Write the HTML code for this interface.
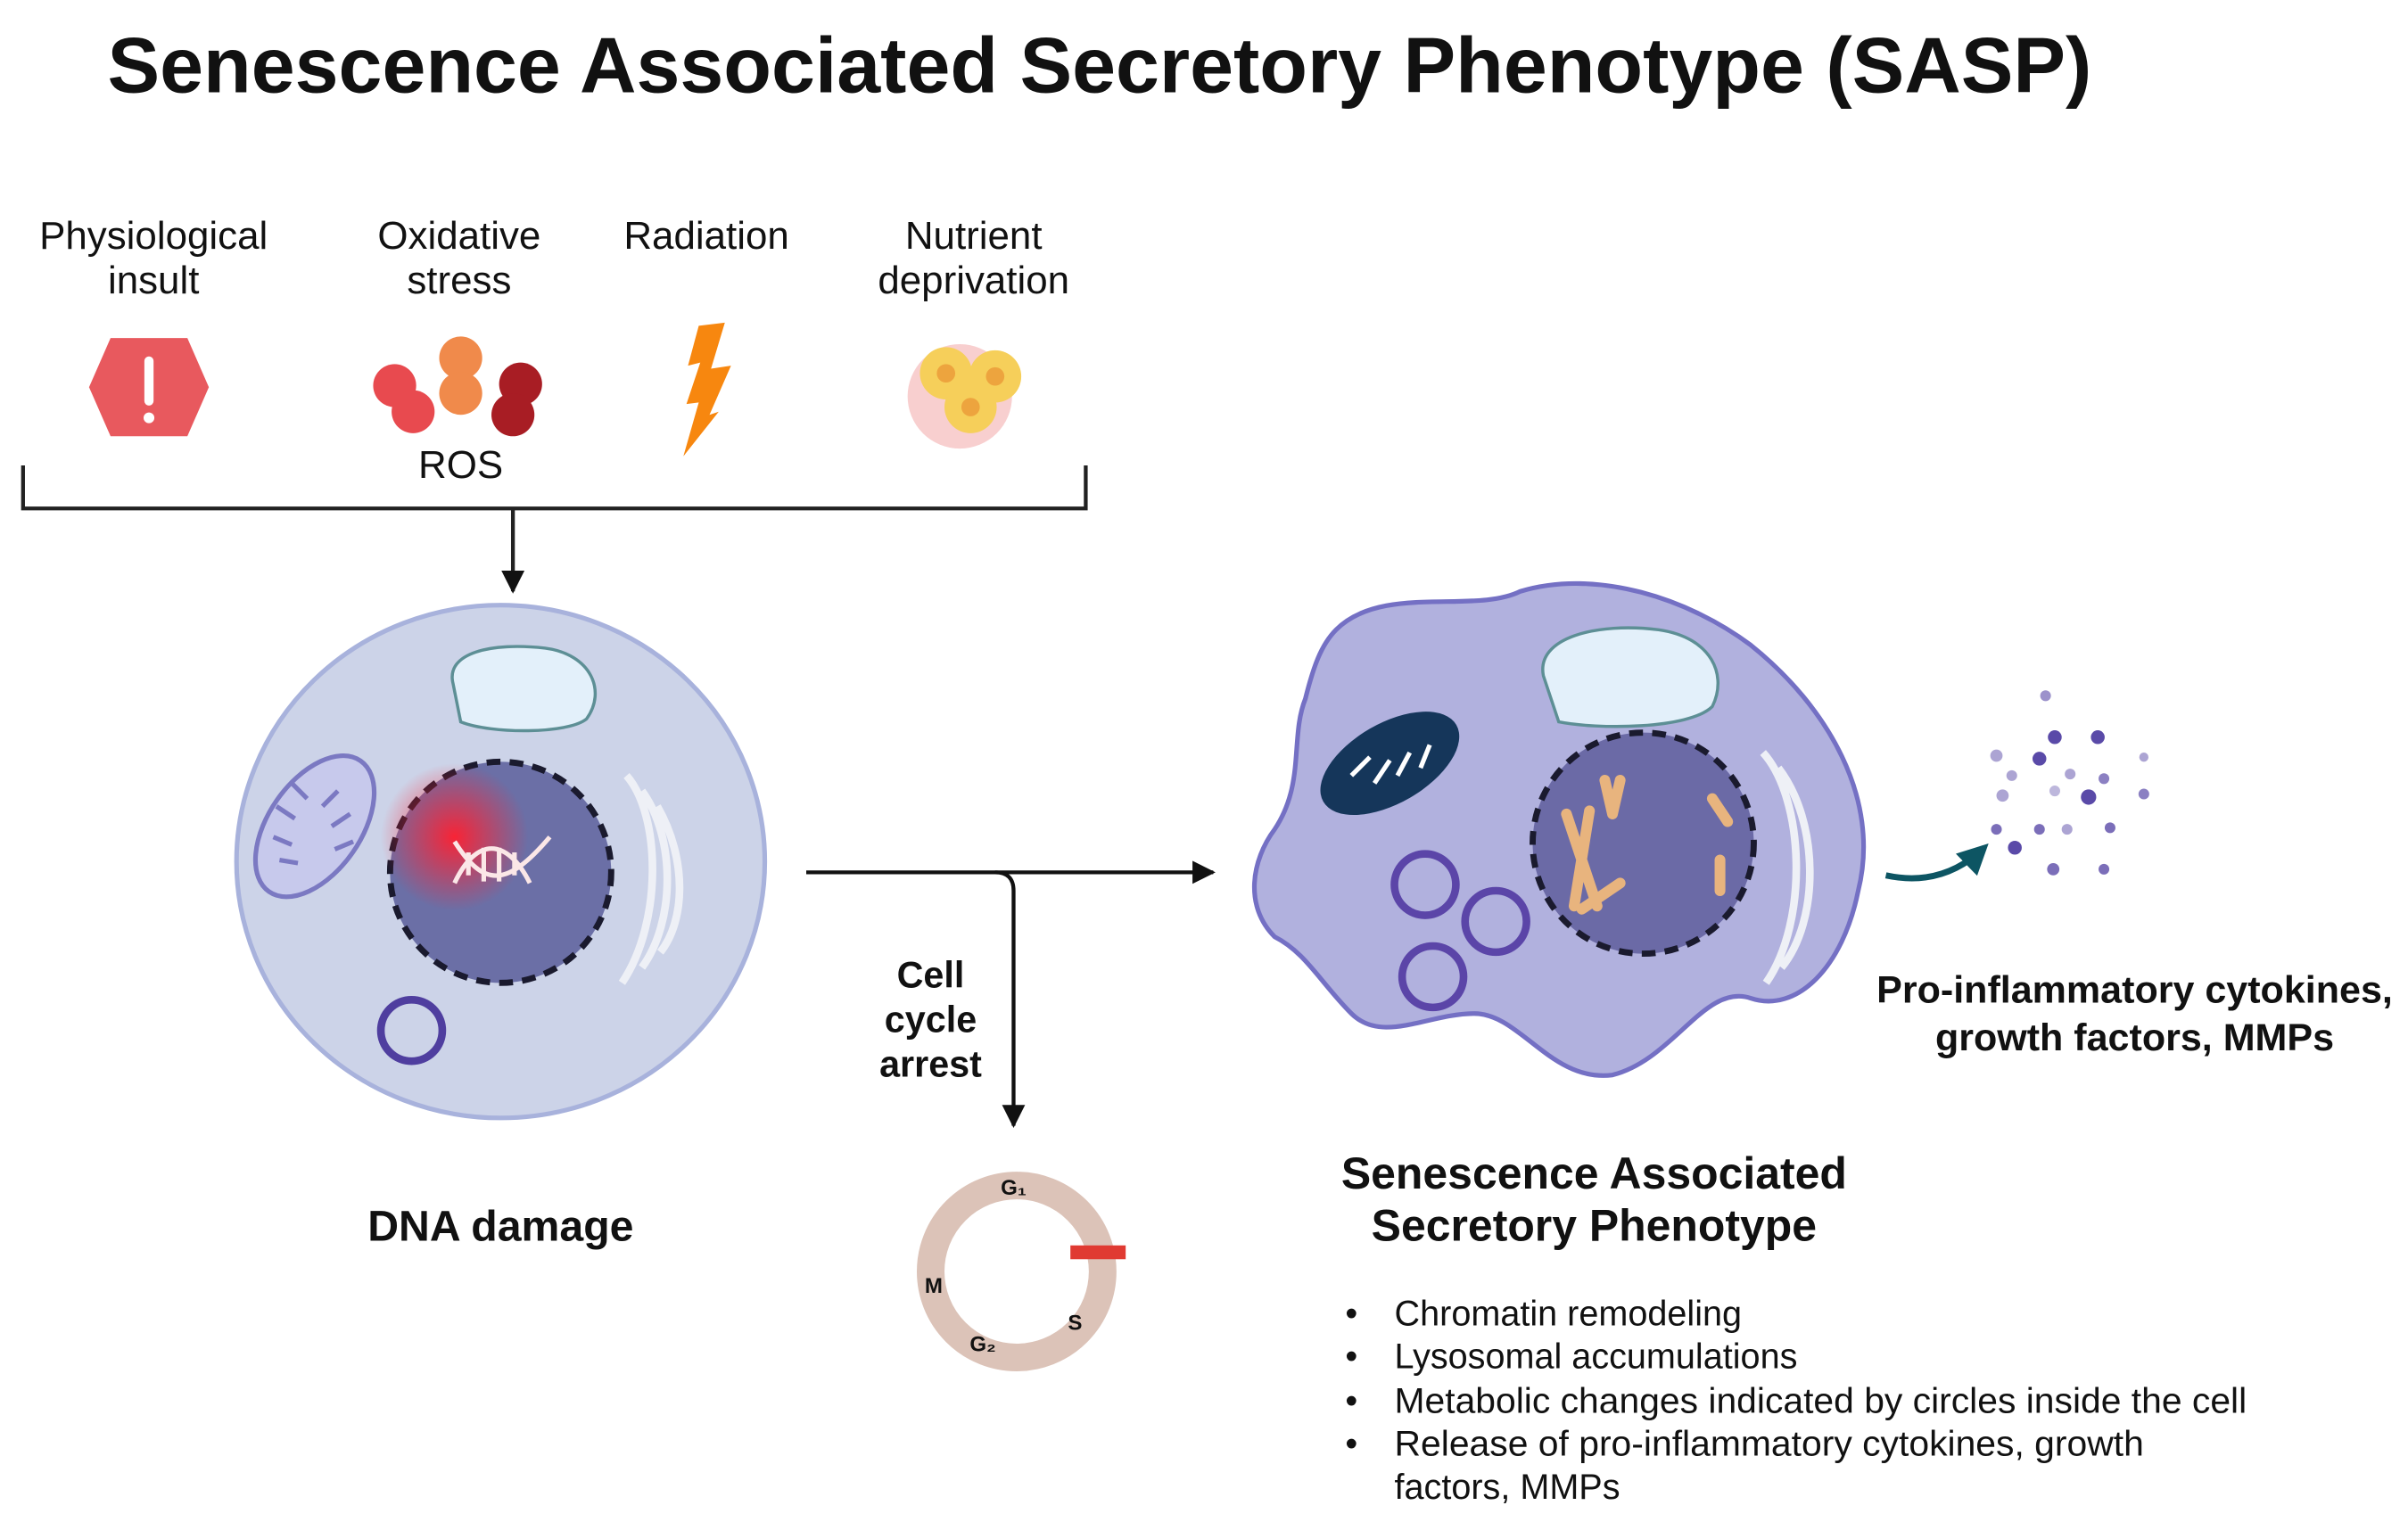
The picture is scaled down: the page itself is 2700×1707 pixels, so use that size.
<!DOCTYPE html>
<html><head><meta charset="utf-8"><style>
html,body{margin:0;padding:0;background:#fff;}
svg{display:block;}
text{font-family:"Liberation Sans",sans-serif;fill:#111;}
.b{font-weight:bold;}
</style></head><body>
<svg width="2700" height="1707" viewBox="0 0 1568 991" xmlns="http://www.w3.org/2000/svg">
<defs>
<radialGradient id="glow"><stop offset="0" stop-color="#ff2030" stop-opacity="0.95"/><stop offset="1" stop-color="#ff2030" stop-opacity="0"/></radialGradient>
<marker id="ah" viewBox="0 0 10 10" refX="9" refY="5" markerWidth="6" markerHeight="6" orient="auto"><path d="M0,0L10,5L0,10z" fill="#111"/></marker>
<marker id="ah2" viewBox="0 0 10 10" refX="8" refY="5" markerWidth="5" markerHeight="5" orient="auto"><path d="M0,0L10,5L0,10z" fill="#0d5563"/></marker>
</defs>
<text x="70" y="60" font-size="51" class="b" textLength="1292" lengthAdjust="spacingAndGlyphs">Senescence Associated Secretory Phenotype (SASP)</text>
<g font-size="25.5" text-anchor="middle">
<text x="100" y="162">Physiological</text><text x="100" y="191">insult</text>
<text x="299" y="162">Oxidative</text><text x="299" y="191">stress</text>
<text x="460" y="162">Radiation</text>
<text x="634" y="162">Nutrient</text><text x="634" y="191">deprivation</text>
<text x="300" y="311">ROS</text>
</g>
<polygon points="72,220 122,220 136,252 122,284 72,284 58,252" fill="#e8595e"/>
<rect x="94" y="232" width="6" height="32" rx="3" fill="#fff"/><circle cx="97" cy="272" r="3.5" fill="#fff"/>
<circle cx="257" cy="251" r="14" fill="#e84a4f"/><circle cx="269" cy="268" r="14" fill="#e84a4f"/>
<circle cx="300" cy="233" r="14" fill="#f08a4b"/><circle cx="300" cy="256" r="14" fill="#f08a4b"/>
<circle cx="339" cy="250" r="14" fill="#a81d24"/><circle cx="334" cy="270" r="14" fill="#a81d24"/>
<polygon points="455,212 472,210 463,240 476,238 462,270 468,268 445,297 455,262 447,263 456,236 448,238" fill="#f7870f"/>
<circle cx="625" cy="258" r="34" fill="#f6c3c3" opacity="0.8"/>
<circle cx="616" cy="243" r="17" fill="#f6cf5a"/><circle cx="648" cy="245" r="17" fill="#f6cf5a"/><circle cx="632" cy="265" r="17" fill="#f6cf5a"/>
<circle cx="616" cy="243" r="6" fill="#eda43e"/><circle cx="648" cy="245" r="6" fill="#eda43e"/><circle cx="632" cy="265" r="6" fill="#eda43e"/>
<path d="M15,303V331H707V303" fill="none" stroke="#222" stroke-width="2.5"/>
<line x1="334" y1="331" x2="334" y2="385" stroke="#222" stroke-width="2.5" marker-end="url(#ah)"/>
<ellipse cx="326" cy="561" rx="172" ry="167" fill="#ccd3e8" stroke="#a8b2dc" stroke-width="3"/>
<path d="M295,445 C290,425 320,418 355,422 C385,426 395,450 382,468 C370,478 320,478 300,470 Z" fill="#e3f0fa" stroke="#5d8f95" stroke-width="2"/>
<ellipse cx="205" cy="538" rx="30" ry="52" transform="rotate(35 205 538)" fill="#c7c9ec" stroke="#7b79c2" stroke-width="3"/>
<path d="M190,510 l10,10 M180,525 l12,8 M178,545 l12,5 M182,560 l12,2 M220,515 l-10,10 M228,530 l-12,8 M230,548 l-12,5" stroke="#7b79c2" stroke-width="3"/>
<path d="M408,505 C430,530 432,600 405,640 M418,515 C440,545 440,600 418,630 M428,525 C448,560 446,600 430,620" fill="none" stroke="#eef0f6" stroke-width="5"/>
<circle cx="326" cy="568" r="72" fill="#6b6fa6" stroke="#1a1a2e" stroke-width="4" stroke-dasharray="9 6"/>
<circle cx="296" cy="545" r="48" fill="url(#glow)"/>
<path d="M296,575 C310,545 330,545 345,575 M296,548 C315,578 330,578 358,545 M305,555v15 M315,552v22 M325,552v22 M335,555v15" fill="none" stroke="#fbe7e7" stroke-width="3"/>
<circle cx="268" cy="671" r="20" fill="none" stroke="#4f3e9f" stroke-width="5"/>
<text x="326" y="808" font-size="28" class="b" text-anchor="middle">DNA damage</text>
<line x1="525" y1="568" x2="790" y2="568" stroke="#111" stroke-width="2.5" marker-end="url(#ah)"/>
<path d="M648,568 Q660,568 660,580 V733" fill="none" stroke="#111" stroke-width="2.5" marker-end="url(#ah)"/>
<g font-size="24" text-anchor="middle"><text x="606" y="643" class="b">Cell</text><text x="606" y="672" class="b">cycle</text><text x="606" y="701" class="b">arrest</text></g>
<circle cx="662" cy="828" r="56" fill="none" stroke="#dcc3b8" stroke-width="18"/>
<rect x="697" y="811" width="36" height="9" fill="#e03a32"/>
<g font-size="14" text-anchor="middle"><text x="660" y="778" class="b">G₁</text><text x="608" y="842" class="b">M</text><text x="700" y="866" class="b">S</text><text x="640" y="880" class="b">G₂</text></g>
<path d="M870,410 C900,380 960,400 990,385 C1040,370 1100,390 1140,420 C1190,460 1225,520 1210,580 C1200,630 1170,660 1140,650 C1110,640 1090,690 1050,700 C1010,705 990,660 960,660 C930,660 900,680 880,660 C860,640 850,620 830,610 C810,590 815,560 830,540 C850,510 840,480 850,455 C855,435 860,420 870,410 Z" fill="#b1b1de" stroke="#7470c4" stroke-width="3"/>
<path d="M1005,440 C1000,415 1040,405 1080,410 C1115,415 1125,440 1115,460 C1100,475 1040,475 1015,470 Z" fill="#e3f0fa" stroke="#5d8f95" stroke-width="2"/>
<ellipse cx="905" cy="497" rx="26" ry="50" transform="rotate(60 905 497)" fill="#15365a"/>
<path d="M880,505 l12,-12 M895,510 l10,-15 M910,505 l8,-15 M925,500 l6,-15" stroke="#fff" stroke-width="3"/>
<path d="M1148,490 C1175,520 1178,600 1150,640 M1158,500 C1185,535 1185,600 1160,630" fill="none" stroke="#eef0f6" stroke-width="5"/>
<circle cx="1070" cy="549" r="72" fill="#6b6aa6" stroke="#1a1a2e" stroke-width="4" stroke-dasharray="9 6"/>
<g stroke="#e8b47e" stroke-width="7" stroke-linecap="round" fill="none">
<path d="M1020,530 L1040,590 M1035,528 L1025,590 M1045,508 L1050,530 M1055,508 L1050,530 M1030,592 L1055,575 M1115,520 L1125,535 M1120,560 L1120,580"/>
</g>
<circle cx="928" cy="576" r="20" fill="none" stroke="#5b45a8" stroke-width="5"/>
<circle cx="974" cy="600" r="20" fill="none" stroke="#5b45a8" stroke-width="5"/>
<circle cx="933" cy="636" r="20" fill="none" stroke="#5b45a8" stroke-width="5"/>
<path d="M1228,570 Q1265,578 1292,552" fill="none" stroke="#0d5563" stroke-width="4" marker-end="url(#ah2)"/>
<g fill="#5a4aa8">
<circle cx="1332" cy="453" r="3.5" opacity="0.6"/><circle cx="1338" cy="480" r="4.5"/><circle cx="1366" cy="480" r="4.5"/>
<circle cx="1300" cy="492" r="4" opacity="0.5"/><circle cx="1328" cy="494" r="4.5"/><circle cx="1396" cy="493" r="3" opacity="0.5"/>
<circle cx="1310" cy="505" r="3.5" opacity="0.5"/><circle cx="1348" cy="504" r="3.5" opacity="0.5"/><circle cx="1370" cy="507" r="3.5" opacity="0.7"/>
<circle cx="1304" cy="518" r="4" opacity="0.5"/><circle cx="1338" cy="515" r="3.5" opacity="0.4"/><circle cx="1360" cy="519" r="5"/><circle cx="1396" cy="517" r="3.5" opacity="0.7"/>
<circle cx="1300" cy="540" r="3.5" opacity="0.8"/><circle cx="1328" cy="540" r="3.5" opacity="0.8"/><circle cx="1346" cy="540" r="3.5" opacity="0.5"/><circle cx="1374" cy="539" r="3.5" opacity="0.8"/>
<circle cx="1312" cy="552" r="4.5"/><circle cx="1337" cy="566" r="4" opacity="0.8"/><circle cx="1370" cy="566" r="3.5" opacity="0.8"/>
</g>
<g font-size="25" text-anchor="middle"><text x="1390" y="653" class="b">Pro-inflammatory cytokines,</text><text x="1390" y="684" class="b">growth factors, MMPs</text></g>
<g font-size="29" text-anchor="middle"><text x="1038" y="774" class="b">Senescence Associated</text><text x="1038" y="808" class="b">Secretory Phenotype</text></g>
<g font-size="23">
<text x="876" y="863">•</text><text x="908" y="863">Chromatin remodeling</text>
<text x="876" y="891">•</text><text x="908" y="891">Lysosomal accumulations</text>
<text x="876" y="920">•</text><text x="908" y="920" textLength="555" lengthAdjust="spacingAndGlyphs">Metabolic changes indicated by circles inside the cell</text>
<text x="876" y="948">•</text><text x="908" y="948" textLength="488" lengthAdjust="spacingAndGlyphs">Release of pro-inflammatory cytokines, growth</text>
<text x="908" y="976">factors, MMPs</text>
</g>
</svg>
</body></html>
